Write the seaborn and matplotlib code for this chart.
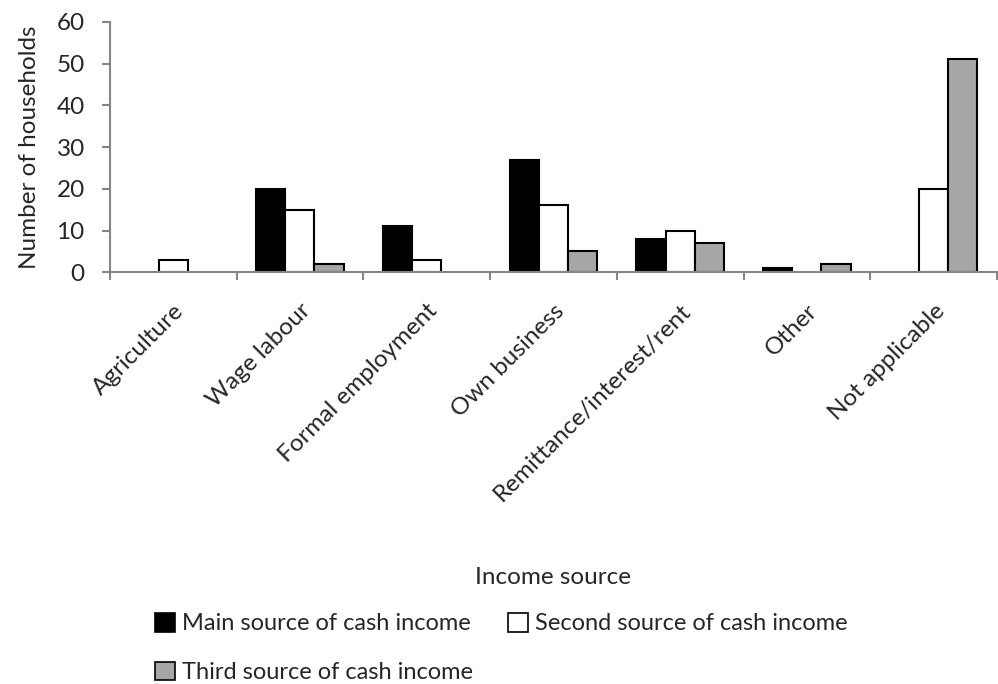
import pandas as pd
import matplotlib
matplotlib.use("Agg")
import matplotlib.pyplot as plt
from matplotlib.patches import Patch
import seaborn as sns

# values
categories = ["Agriculture", "Wage labour", "Formal employment", "Own business",
              "Remittance/interest/rent", "Other", "Not applicable"]
main_source = [0, 20, 11, 27, 8, 1, 0]
second_source = [3, 15, 3, 16, 10, 0, 20]
third_source = [0, 2, 0, 5, 7, 2, 51]
series_names = ["Main source of cash income", "Second source of cash income",
                "Third source of cash income"]
colors = ["#000000", "#ffffff", "#a6a6a6"]

df = pd.DataFrame({
    "Income source": categories * 3,
    "Households": main_source + second_source + third_source,
    "Series": [series_names[0]] * 7 + [series_names[1]] * 7 + [series_names[2]] * 7,
})

sns.set_style("white")
plt.rcParams['font.family'] = ['Lato', 'DejaVu Sans']
fs = 17.5

fig = plt.figure(figsize=(9.98, 6.84), dpi=100)
ax = fig.add_axes([0.110, 0.602, 0.889, 0.366])

sns.barplot(data=df, x="Income source", y="Households", hue="Series",
            palette=colors, edgecolor="black", linewidth=1.5, width=0.69,
            saturation=1, ax=ax, legend=False)

# hide zero-height bars (Excel shows nothing for them)
for p in ax.patches:
    if p.get_height() == 0:
        p.set_linewidth(0)

ax.set_xlim(-0.5, 6.5)
ax.set_ylim(0, 60)
ax.set_yticks(range(0, 61, 10))
ax.set_xticks(range(len(categories)))
ax.set_xticklabels(categories, rotation=45, ha="right", rotation_mode="anchor", fontsize=fs)
ax.tick_params(axis="x", length=0, pad=20)
ax.set_xticks([i - 0.5 for i in range(len(categories) + 1)], minor=True)
ax.tick_params(axis="x", which="minor", length=6, color="#868686", width=1.5, direction="out")
ax.tick_params(axis="y", length=6, color="#868686", width=1.5, direction="out",
               labelsize=fs, pad=12)
ax.yaxis.set_ticks_position("left")
ax.xaxis.set_ticks_position("bottom")

for s in ["top", "right"]:
    ax.spines[s].set_visible(False)
for s in ["left", "bottom"]:
    ax.spines[s].set_color("#868686")
    ax.spines[s].set_linewidth(1.5)

ax.set_xlabel("")
ax.set_ylabel("Number of households", fontsize=fs, labelpad=12)
fig.text(0.554, 0.155, "Income source", ha="center", va="center", fontsize=fs)

handles = [Patch(facecolor=c, edgecolor="black", linewidth=1.2) for c in colors]
order = [0, 2, 1]
fig.legend([handles[i] for i in order], [series_names[i] for i in order],
           loc="upper left", bbox_to_anchor=(0.155, 0.104), ncol=2, frameon=False,
           borderpad=0, borderaxespad=0,
           fontsize=17, handlelength=0.85, handleheight=0.85, handletextpad=0.3,
           columnspacing=1.5, labelspacing=1.15)

fig.savefig("out.png", dpi=100)
